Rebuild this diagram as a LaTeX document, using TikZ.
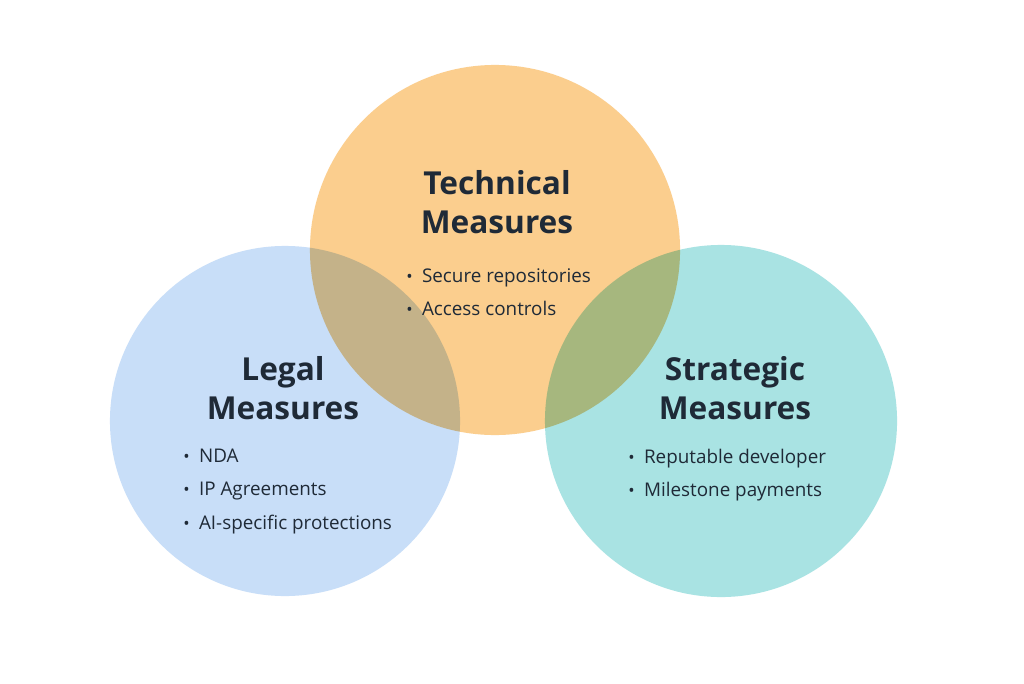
\documentclass[tikz,border=0pt]{standalone}
\usepackage{fontspec}
\setmainfont{Open Sans}
\usetikzlibrary{positioning}
\definecolor{techorange}{HTML}{FBC272}
\definecolor{legalblue}{HTML}{C8DEF8}
\definecolor{stratteal}{HTML}{A9E3E3}
\definecolor{inkdark}{HTML}{1F2A37}
\tikzset{
  ring/.style={circle, draw=none, minimum size=#1, inner sep=0pt},
  title_style/.style={align=center, text=inkdark, font=\fontsize{22.5}{27.5}\selectfont\bfseries},
  list_style/.style={align=left, anchor=north west, text=inkdark, inner sep=0pt, font=\fontsize{13.4}{23.6}\selectfont}
}
\newcommand{\bul}{{\large\textbullet}\hspace{0.5em}}
\begin{document}
\begin{tikzpicture}[x=0.025cm, y=-0.025cm]
\useasboundingbox[fill=white] (0,0) rectangle (1024,683);

% Circles
\node[ring=8.75cm, fill=legalblue] (legal) at (285,421) {};
\node[ring=8.8cm, fill=stratteal] (strat) at (721,421) {};
\node[ring=9.25cm, fill=techorange, fill opacity=0.8, blend mode=multiply] (tech) at (495,250) {};

% Titles
\node[title_style] (techtitle) at (497,202) {Technical\\Measures};
\node[title_style] (legaltitle) at (283,388) {Legal\\Measures};
\node[title_style] (strattitle) at (735,388) {Strategic\\Measures};

% Bullet lists
\node[list_style] (techlist) at (406,268) {\bul Secure repositories\\\bul Access controls};
\node[list_style] (legallist) at (183,449) {\bul NDA\\\bul IP Agreements\\\bul AI-specific protections};
\node[list_style] (stratlist) at (628,449) {\bul Reputable developer\\\bul Milestone payments};
\end{tikzpicture}
\end{document}
